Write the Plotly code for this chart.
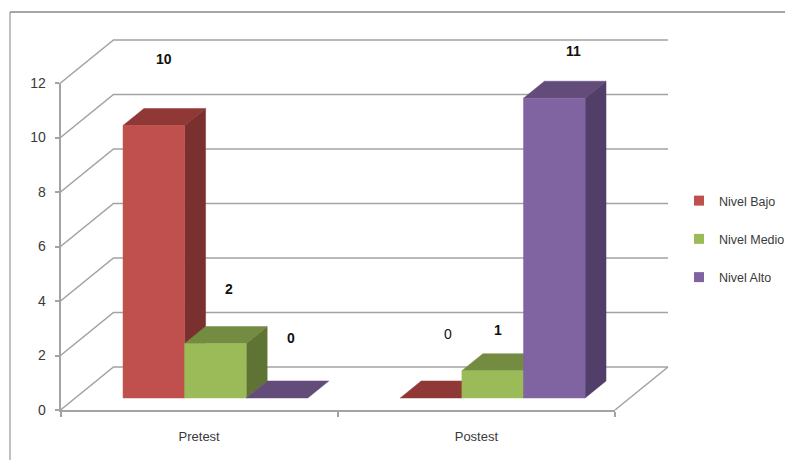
import plotly.graph_objects as go

# ---- data ----
categories = ["Pretest", "Postest"]
series_names = ["Nivel Bajo", "Nivel Medio", "Nivel Alto"]
nivel_bajo = [10, 0]
nivel_medio = [2, 1]
nivel_alto = [0, 11]
y_ticks = [0, 2, 4, 6, 8, 10, 12]

# ---- styling ----
front_colors = ["#C0504D", "#9BBB59", "#8064A2"]
top_colors = ["#8F3836", "#748B42", "#634C7A"]
side_colors = ["#7A302E", "#5F7434", "#523F69"]
grid_color = "#A3A3A3"
text_color = "#3A3A3A"
FONT = "Liberation Sans"

# label offsets (pixels) from the front-top centre of each bar
label_shift = {
    (0, 0): (10, 66, True), (1, 0): (14, 54, True), (2, 0): (14, 60, True),
    (0, 1): (17, 64, False), (1, 1): (5, 41, True), (2, 1): (19, 47, True),
}

# ---- layout constants ----
W, H = 785, 460
AX_LEFT, AX_RIGHT = 60.5, 615.0
AX_BOTTOM, AX_TOP = 410.0, 83.0
Y_MAX = 12
PX_PER_CAT = (AX_RIGHT - AX_LEFT) / len(categories)
PX_PER_VAL = (AX_BOTTOM - AX_TOP) / Y_MAX
DEPTH_X = 53 / PX_PER_CAT     # shift of back wall, category units
DEPTH_Y = 43 / PX_PER_VAL     # shift of back wall, value units
GAP = 0.172
BAR_W = 0.2222
Z0, Z1 = 0.28, 0.675


def proj(c, v, z):
    """Oblique projection of (category position, value, depth) to plane."""
    return c + z * DEPTH_X, v + z * DEPTH_Y


def poly(points):
    xs, ys = zip(*[proj(*p) for p in points])
    return list(xs) + [xs[0]], list(ys) + [ys[0]]


fig = go.Figure()

# real axes: ticks and tick labels come from Plotly
fig.add_trace(go.Scatter(x=categories, y=[0, Y_MAX], mode="markers",
                         marker=dict(opacity=0), showlegend=False,
                         hoverinfo="skip", xaxis="x", yaxis="y"))

# walls and floor
n_cat = len(categories)
for v in y_ticks:
    xs, ys = zip(proj(0, v, 0), proj(0, v, 1), proj(n_cat, v, 1))
    fig.add_trace(go.Scatter(x=xs, y=ys, mode="lines", showlegend=False, hoverinfo="skip",
                             line=dict(color=grid_color, width=1.6), xaxis="x2", yaxis="y2"))
xs, ys = zip(proj(n_cat, 0, 0), proj(n_cat, 0, 1))
fig.add_trace(go.Scatter(x=xs, y=ys, mode="lines", showlegend=False, hoverinfo="skip",
                         line=dict(color=grid_color, width=1.6), xaxis="x2", yaxis="y2"))


def add_face(points, color, group):
    xs, ys = poly(points)
    fig.add_trace(go.Scatter(x=xs, y=ys, mode="lines", fill="toself", fillcolor=color,
                             line=dict(color=color, width=0.5), showlegend=False,
                             legendgroup=group, hoverinfo="skip", xaxis="x2", yaxis="y2"))


all_values = [nivel_bajo, nivel_medio, nivel_alto]
annotations = []
for ci in range(n_cat):
    for si, values in enumerate(all_values):
        v = values[ci]
        name = series_names[si]
        x0 = ci + GAP + si * BAR_W
        x1 = x0 + BAR_W
        if v > 0:
            add_face([(x1, 0, Z0), (x1, 0, Z1), (x1, v, Z1), (x1, v, Z0)], side_colors[si], name)
        add_face([(x0, v, Z0), (x1, v, Z0), (x1, v, Z1), (x0, v, Z1)], top_colors[si], name)
        if v > 0:
            add_face([(x0, 0, Z0), (x1, 0, Z0), (x1, v, Z0), (x0, v, Z0)], front_colors[si], name)
        lx, ly = proj((x0 + x1) / 2, v, Z0)
        sx, sy, bold = label_shift[(si, ci)]
        annotations.append(dict(x=lx, y=ly, xref="x2", yref="y2", text=str(v), showarrow=False,
                                xshift=sx, yshift=sy,
                                font=dict(family=FONT, size=14, color="#111111",
                                          weight="bold" if bold else "normal")))

# legend entries
for si, name in enumerate(series_names):
    fig.add_trace(go.Scatter(x=[None], y=[None], mode="markers", name=name, legendgroup=name,
                             marker=dict(symbol="square", size=10, color=front_colors[si]),
                             xaxis="x2", yaxis="y2"))

# outer frame of the chart
shapes = [
    dict(type="line", xref="paper", yref="paper", x0=10 / W, x1=10 / W, y0=0, y1=1 - 12 / H,
         line=dict(color="#ABABAB", width=1.5)),
    dict(type="line", xref="paper", yref="paper", x0=10 / W, x1=1, y0=1 - 12 / H, y1=1 - 12 / H,
         line=dict(color="#8A8A8A", width=1.5)),
]

fig.update_layout(
    width=W, height=H, margin=dict(l=0, r=0, t=0, b=0, pad=0, autoexpand=False), autosize=False,
    paper_bgcolor="white", plot_bgcolor="rgba(0,0,0,0)",
    font=dict(family=FONT, size=14, color=text_color),
    showlegend=True,
    legend=dict(x=679 / W, xanchor="left", y=1 - 186 / H, yanchor="top",
                tracegroupgap=19, font=dict(family=FONT, size=12.5, color=text_color),
                bgcolor="rgba(0,0,0,0)"),
    xaxis=dict(domain=[AX_LEFT / W, AX_RIGHT / W], type="category", categoryorder="array",
               categoryarray=categories, tickson="boundaries", range=[-0.5, 1.5],
               ticks="outside", ticklen=5, tickcolor=grid_color, tickwidth=1.5,
               ticklabelstandoff=14,
               showline=True, linecolor=grid_color, linewidth=1.6, showgrid=False,
               zeroline=False, anchor="y", fixedrange=True,
               tickfont=dict(family=FONT, size=13, color=text_color)),
    yaxis=dict(domain=[1 - AX_BOTTOM / H, 1 - AX_TOP / H], range=[0, Y_MAX],
               tickvals=y_ticks, ticks="outside", ticklen=4, tickcolor=grid_color, tickwidth=1.5,
               ticklabelstandoff=6,
               showline=True, linecolor=grid_color, linewidth=1.6, showgrid=False,
               zeroline=False, anchor="x", fixedrange=True,
               tickfont=dict(family=FONT, size=14, color=text_color)),
    xaxis2=dict(domain=[0, 1], range=[-AX_LEFT / PX_PER_CAT, (W - AX_LEFT) / PX_PER_CAT],
                visible=False, anchor="y2", fixedrange=True),
    yaxis2=dict(domain=[0, 1], range=[(AX_BOTTOM - H) / PX_PER_VAL, AX_BOTTOM / PX_PER_VAL],
                visible=False, anchor="x2", fixedrange=True),
    annotations=annotations, shapes=shapes,
)

POST = "document.documentElement.style.margin='0';document.body.style.margin='0';document.body.style.overflow='hidden';"

fig.write_html("out.html", post_script=POST, config={"displayModeBar": False})
